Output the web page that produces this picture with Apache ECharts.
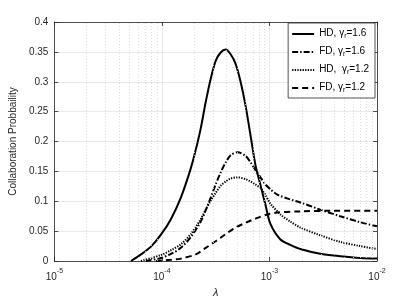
<!DOCTYPE html>
<html>
<head>
<meta charset="utf-8">
<script src="https://cdn.jsdelivr.net/npm/echarts@6/dist/echarts.min.js"></script>
<style>html,body{margin:0;padding:0;background:#fff;}#c{width:415px;height:303px;}</style>
</head>
<body>
<div id="c"></div>
<script>
// ---- data ----
const hd16X = [5.16e-5, 6.39e-5, 7.91e-5, 9.79e-5, 1.212e-4, 1.50e-4, 1.856e-4, 2.064e-4, 2.297e-4, 2.555e-4, 2.843e-4, 3.162e-4, 3.518e-4, 3.914e-4, 4.355e-4, 4.845e-4, 5.39e-4, 5.995e-4, 6.67e-4, 7.42e-4, 8.25e-4, 9.18e-4, 1.021e-3, 1.264e-3, 1.564e-3, 1.937e-3, 2.967e-3, 4.545e-3, 6.96e-3, 1e-2];
const hd16Y = [0, 0.011, 0.024, 0.044, 0.070, 0.106, 0.155, 0.186, 0.222, 0.266, 0.305, 0.335, 0.349, 0.354, 0.346, 0.330, 0.300, 0.260, 0.210, 0.160, 0.127, 0.094, 0.062, 0.036, 0.027, 0.020, 0.012, 0.008, 0.005, 0.004];

const fd16X = [7.11e-5, 9.79e-5, 1.212e-4, 1.50e-4, 1.856e-4, 2.297e-4, 2.555e-4, 2.843e-4, 3.162e-4, 3.518e-4, 3.914e-4, 4.355e-4, 5.06e-4, 5.995e-4, 6.67e-4, 7.42e-4, 8.25e-4, 9.18e-4, 1.021e-3, 1.186e-3, 1.564e-3, 1.937e-3, 2.967e-3, 4.545e-3, 6.96e-3, 1e-2];
const fd16Y = [0, 0.005, 0.012, 0.022, 0.040, 0.066, 0.085, 0.106, 0.128, 0.148, 0.165, 0.177, 0.182, 0.176, 0.165, 0.152, 0.140, 0.128, 0.120, 0.111, 0.103, 0.098, 0.086, 0.075, 0.065, 0.058];

const hd12X = [6.39e-5, 9.79e-5, 1.212e-4, 1.50e-4, 1.856e-4, 2.297e-4, 2.555e-4, 2.843e-4, 3.162e-4, 3.518e-4, 3.914e-4, 4.355e-4, 5.06e-4, 5.995e-4, 6.67e-4, 7.42e-4, 8.25e-4, 9.18e-4, 1.021e-3, 1.264e-3, 1.564e-3, 1.937e-3, 2.967e-3, 4.545e-3, 6.96e-3, 1e-2];
const hd12Y = [0, 0.010, 0.018, 0.028, 0.045, 0.070, 0.086, 0.101, 0.114, 0.126, 0.133, 0.138, 0.140, 0.137, 0.133, 0.128, 0.122, 0.110, 0.096, 0.078, 0.066, 0.056, 0.043, 0.032, 0.025, 0.020];

const fd12X = [8.80e-5, 1.212e-4, 1.50e-4, 2.064e-4, 2.555e-4, 3.162e-4, 3.914e-4, 4.845e-4, 5.995e-4, 7.42e-4, 9.18e-4, 1.186e-3, 1.937e-3, 3.67e-3, 1e-2];
const fd12Y = [0, 0.002, 0.004, 0.011, 0.022, 0.033, 0.045, 0.056, 0.064, 0.071, 0.077, 0.081, 0.083, 0.084, 0.084];

const seriesNames = ['HD16', 'FD16', 'HD12', 'FD12'];
const legendLabels = [['HD, γ', 'r', '=1.6'], ['FD, γ', 'r', '=1.6'], ['HD,  γ', 'r', '=1.2'], ['FD, γ', 'r', '=1.2']];
const xTickExps = [-5, -4, -3, -2];
const yTicks = [0, 0.05, 0.1, 0.15, 0.2, 0.25, 0.3, 0.35, 0.4];
const minorGridX = [];
for (const e of [-5, -4, -3]) for (const m of [2,3,4,5,6,7,8,9]) minorGridX.push(m * Math.pow(10, e));

// ---- chart ----
const font = 'Liberation Sans, Arial, Helvetica, sans-serif';
const axisColor = '#262626';
const zip = (xs, ys) => xs.map((x, i) => [x, ys[i]]);

const chart = echarts.init(document.getElementById('c'), null, {renderer: 'canvas'});
const lineStyles = [
  {type: 'solid', width: 2},
  {type: [6, 2, 1.5, 2], width: 2},
  {type: [1.3, 1.3], width: 2},
  {type: [6, 4], width: 2}
];
const datasets = [zip(hd16X, hd16Y), zip(fd16X, fd16Y), zip(hd12X, hd12Y), zip(fd12X, fd12Y)];

const minY = yTicks[0], maxY = yTicks[yTicks.length - 1];
const minX = Math.pow(10, xTickExps[0]), maxX = Math.pow(10, xTickExps[xTickExps.length - 1]);

const series = [{
  name: 'minor', type: 'line', data: [[minX, minY], [maxX, minY]], z: 1, silent: true, symbol: 'none',
  lineStyle: {width: 0},
  markLine: {
    silent: true, symbol: 'none', label: {show: false}, animation: false,
    lineStyle: {color: '#d4d4d4', type: [1, 2], width: 0.8, opacity: 1},
    data: minorGridX.map(v => [{coord: [v, minY]}, {coord: [v, maxY]}])
  }
}];
seriesNames.forEach((n, i) => series.push({
  name: n, type: 'line', data: datasets[i], showSymbol: false, symbol: 'none',
  smooth: 0.3, z: 3,
  lineStyle: Object.assign({color: '#000', cap: 'butt'}, lineStyles[i]),
  itemStyle: {color: '#000'}
}));

chart.setOption({
  animation: false,
  backgroundColor: '#fff',
  textStyle: {fontFamily: font},
  grid: {left: 53, right: 38, top: 22, bottom: 39, containLabel: false},
  legend: {
    data: seriesNames, orient: 'vertical', right: 40, top: 23, align: 'left', z: 20,
    backgroundColor: '#fff', borderColor: axisColor, borderWidth: 0.8, borderRadius: 0,
    padding: [5, 6, 4, 3], itemGap: 6, itemWidth: 22, itemHeight: 12,
    itemStyle: {opacity: 0},
    textStyle: {fontFamily: font, fontSize: 10, color: '#000',
      rich: {
        t: {fontSize: 10, fontFamily: font, color: '#000', lineHeight: 12, verticalAlign: 'top'},
        s: {fontSize: 7, fontFamily: font, color: '#000', lineHeight: 12, verticalAlign: 'top', padding: [5, 0, 0, 0]}
      }},
    formatter: n => {
      const l = legendLabels[seriesNames.indexOf(n)];
      return '{t|' + l[0] + '}{s|' + l[1] + '}{t|' + l[2] + '}';
    }
  },
  xAxis: [{
    type: 'log', logBase: 10, min: minX, max: maxX,
    name: 'λ', nameLocation: 'middle', nameGap: 26,
    nameTextStyle: {fontFamily: font, fontSize: 11, fontStyle: 'italic', color: axisColor},
    axisLine: {show: true, onZero: false, lineStyle: {color: axisColor, width: 0.8}},
    axisTick: {show: true, inside: true, length: 4, lineStyle: {color: axisColor, width: 0.8}},
    splitLine: {show: true, lineStyle: {color: '#e3e3e3', width: 0.8}},
    axisLabel: {
      margin: 7, color: axisColor,
      formatter: v => {
        const e = Math.round(Math.log10(v));
        return xTickExps.includes(e) ? '{b|10}{e|' + e + '}' : '';
      },
      rich: {
        b: {fontSize: 10, fontFamily: font, color: axisColor, lineHeight: 10, verticalAlign: 'top', padding: [4, 0, 0, 0]},
        e: {fontSize: 7, fontFamily: font, color: axisColor, lineHeight: 8, verticalAlign: 'top'}
      }
    }
  }, {
    type: 'log', logBase: 10, min: minX, max: maxX, position: 'top',
    axisLine: {show: true, onZero: false, lineStyle: {color: axisColor, width: 0.8}},
    axisTick: {show: true, inside: true, length: 4, lineStyle: {color: axisColor, width: 0.8}},
    axisLabel: {show: false}, splitLine: {show: false}
  }],
  yAxis: [{
    type: 'value', min: minY, max: maxY, interval: 0.05,
    name: 'Collaboration Probbaility', nameLocation: 'middle', nameGap: 31,
    nameTextStyle: {fontFamily: font, fontSize: 10, color: axisColor},
    axisLine: {show: true, onZero: false, lineStyle: {color: axisColor, width: 0.8}},
    axisTick: {show: true, inside: true, length: 4, lineStyle: {color: axisColor, width: 0.8}},
    splitLine: {show: true, lineStyle: {color: '#e3e3e3', width: 0.8}},
    axisLabel: {fontSize: 10, fontFamily: font, color: axisColor, margin: 6,
      formatter: v => String(+v.toFixed(2))}
  }, {
    type: 'value', min: minY, max: maxY, interval: 0.05, position: 'right',
    axisLine: {show: true, onZero: false, lineStyle: {color: axisColor, width: 0.8}},
    axisTick: {show: true, inside: true, length: 4, lineStyle: {color: axisColor, width: 0.8}},
    axisLabel: {show: false}, splitLine: {show: false}
  }],
  series: series
});
</script>
</body>
</html>
